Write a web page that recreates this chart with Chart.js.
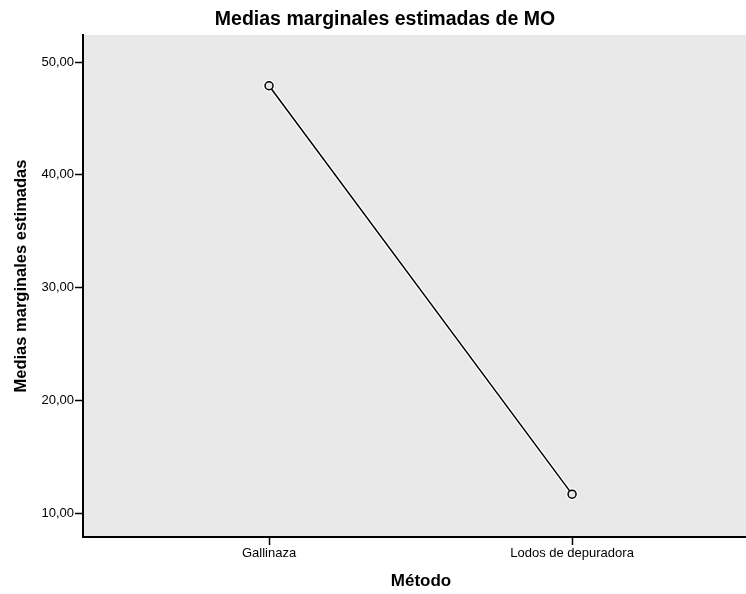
<!DOCTYPE html>
<html>
<head>
<meta charset="utf-8">
<script src="https://cdn.jsdelivr.net/npm/chart.js@4.4.1/dist/chart.umd.min.js"></script>
<style>
  html, body { margin: 0; padding: 0; background: #fff; overflow: hidden; }
  canvas { display: block; }
</style>
</head>
<body>
<canvas id="chart" width="746" height="594"></canvas>
<script>
// data
const categories = ["Gallinaza", "Lodos de depuradora"];
const means = [47.9, 11.7];
const yTicks = [10, 20, 30, 40, 50];

const chartTitle = "Medias marginales estimadas de MO";
const xTitle = "Método";
const yTitle = "Medias marginales estimadas";

const points = means.map((v, i) => ({ x: i + 1, y: v }));
const fontFamily = "'Liberation Sans', Arial, sans-serif";

// plot background and titles drawn by hand so positions match
const plotBg = {
  id: "plotBg",
  beforeDraw(chart) {
    const { ctx, chartArea: a } = chart;
    ctx.save();
    ctx.fillStyle = "#e9e9e9";
    ctx.fillRect(a.left, a.top, a.right - a.left, a.bottom - a.top);
    ctx.restore();
  },
  afterDraw(chart) {
    const { ctx } = chart;
    ctx.save();
    ctx.fillStyle = "#000";
    ctx.textAlign = "center";
    ctx.textBaseline = "middle";
    ctx.font = "bold 19.5px " + fontFamily;
    ctx.fillText(chartTitle, 385, 20);
    ctx.font = "bold 17px " + fontFamily;
    ctx.fillText(xTitle, 421, 581);
    ctx.font = "bold 16.5px " + fontFamily;
    ctx.translate(21, 276);
    ctx.rotate(-Math.PI / 2);
    ctx.fillText(yTitle, 0, 0);
    ctx.restore();
  }
};

new Chart(document.getElementById("chart"), {
  type: "line",
  data: {
    datasets: [
      {
        data: points,
        borderColor: "#000",
        borderWidth: 1.5,
        pointRadius: 4,
        pointBorderWidth: 1.5,
        pointBorderColor: "#000",
        pointBackgroundColor: "#e9e9e9",
        tension: 0,
        order: 1
      },
      {
        // white halo under the line
        data: points,
        borderColor: "#fff",
        borderWidth: 4,
        pointRadius: 6,
        pointBorderWidth: 0,
        pointBackgroundColor: "#fff",
        tension: 0,
        order: 2
      }
    ]
  },
  options: {
    responsive: false,
    animation: false,
    layout: { autoPadding: false, padding: { top: 35, left: 0, right: 0, bottom: 0 } },
    plugins: {
      legend: { display: false },
      tooltip: { enabled: false },
      title: { display: false }
    },
    scales: {
      x: {
        type: "linear",
        min: 0.386,
        max: 2.574,
        afterBuildTicks: (scale) => {
          scale.ticks = categories.map((c, i) => ({ value: i + 1 }));
        },
        afterFit: (scale) => { scale.height = 57; },
        ticks: {
          callback: (v) => categories[v - 1],
          color: "#000",
          font: { family: fontFamily, size: 13 },
          padding: 1,
          maxRotation: 0
        },
        grid: {
          drawOnChartArea: false,
          drawTicks: true,
          tickLength: 8,
          color: "#000",
          tickWidth: 1.5
        },
        border: { display: true, color: "#000", width: 2 },
        title: { display: false }
      },
      y: {
        min: 7.9,
        max: 52.4,
        afterBuildTicks: (scale) => {
          scale.ticks = yTicks.map((v) => ({ value: v }));
        },
        afterFit: (scale) => { scale.width = 83; },
        ticks: {
          callback: (v) => v.toFixed(2).replace(".", ","),
          color: "#000",
          font: { family: fontFamily, size: 13 },
          padding: 1
        },
        grid: {
          drawOnChartArea: false,
          drawTicks: true,
          tickLength: 8,
          color: "#000",
          tickWidth: 1.5
        },
        border: { display: true, color: "#000", width: 2 },
        title: { display: false }
      }
    }
  },
  plugins: [plotBg]
});
</script>
</body>
</html>
